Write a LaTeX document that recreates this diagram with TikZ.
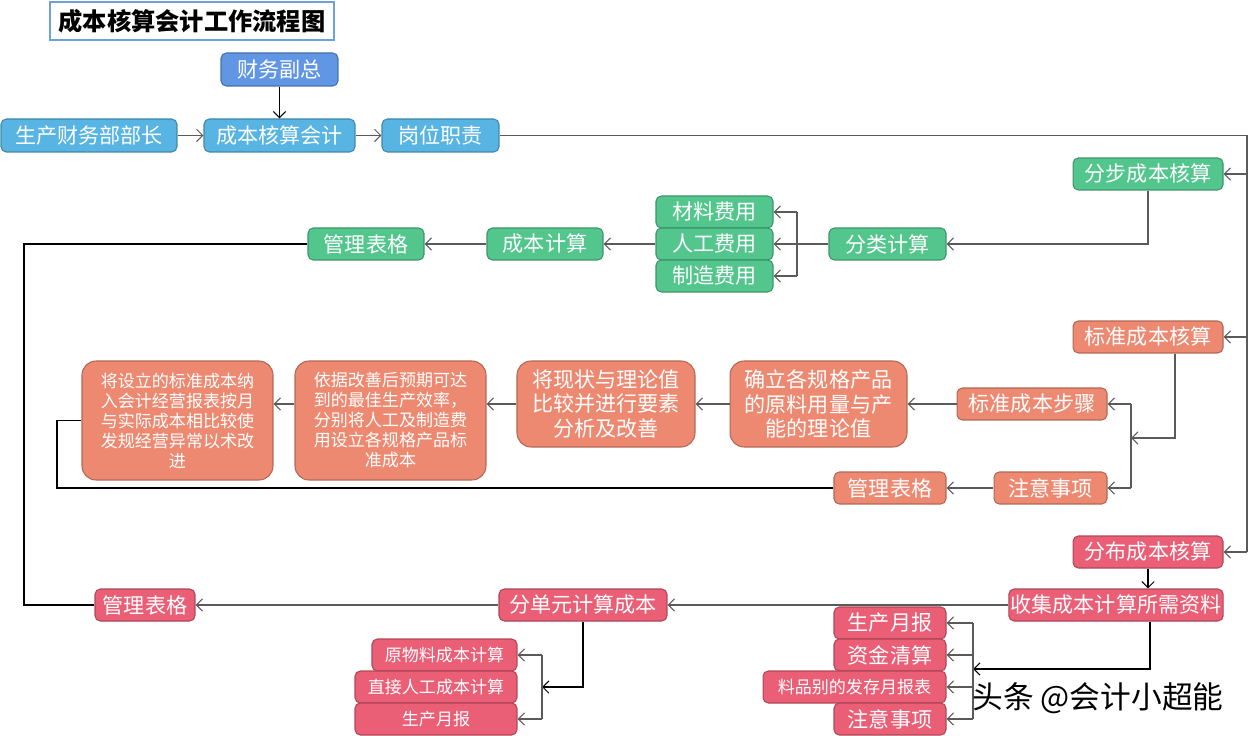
\documentclass[tikz,border=0pt]{standalone}
\usepackage{fontspec}
\newfontfamily\cjk{Noto Sans CJK SC}
\usetikzlibrary{arrows.meta, positioning, calc}
\definecolor{chartblue}{HTML}{6096E4}
\definecolor{chartsky}{HTML}{58B4E2}
\definecolor{chartgreen}{HTML}{52C68D}
\definecolor{chartorange}{HTML}{EE8971}
\definecolor{chartred}{HTML}{EA5F76}
\definecolor{chartframe}{HTML}{6FA0DC}
\definecolor{chartline}{HTML}{5A5A5A}

\begin{document}
\begin{tikzpicture}[x=0.02cm, y=-0.02cm, font=\cjk\fontsize{12}{14}\selectfont,
    >={Straight Barb[length=3.5pt,width=7pt]},
    box/.style={rounded corners=3pt, text=white, minimum height=0.64cm, inner sep=1pt, line width=0.6pt},
    skybox/.style={box, fill=chartsky, draw=chartsky!75!black},
    greenbox/.style={box, fill=chartgreen, draw=chartgreen!75!black},
    orangebox/.style={box, fill=chartorange, draw=chartorange!75!black},
    redbox/.style={box, fill=chartred, draw=chartred!75!black},
    bigbox/.style={orangebox, rounded corners=8pt, align=center},
    small/.style={font=\cjk\fontsize{9.7}{11.4}\selectfont},
    flow/.style={->, chartline, line width=0.6pt},
    back/.style={black, line width=0.6pt}]
  \useasboundingbox (0,0) rectangle (1250,736);
  % title
  \node[draw=chartframe, line width=1.1pt, minimum width=5.68cm, minimum height=0.76cm,
        font=\cjk\bfseries\fontsize{13.8}{17}\selectfont] (title) at (192,21) {成本核算会计工作流程图};
  % top row
  \node[box, fill=chartblue, draw=chartblue!75!black, minimum width=2.34cm, minimum height=0.66cm] (vp) at (279.5,69.5) {财务副总};
  \node[skybox, minimum width=3.52cm, minimum height=0.66cm] (head) at (89,135.5) {生产财务部部长};
  \node[skybox, minimum width=3.02cm, minimum height=0.66cm] (acct) at (279.5,135.5) {成本核算会计};
  \node[skybox, minimum width=2.34cm, minimum height=0.66cm] (duty) at (440.5,135.5) {岗位职责};
  \draw[flow] (head) -- (acct);
  \draw[->, black, line width=0.6pt] (vp) -- (acct);
  \draw[flow] (acct) -- (duty);
  % right bus
  \coordinate (busend) at (1247,552);
  \draw[chartline, line width=0.6pt] (duty.east) -| (busend);

  % step costing (green)
  \node[greenbox, minimum width=3.0cm] (stepc) at (1148,174) {分步成本核算};
  \node[greenbox, minimum width=2.34cm] (classc) at (887.5,244) {分类计算};
  \node[greenbox, minimum width=2.34cm] (mat) at (714.5,212) {材料费用};
  \node[greenbox, minimum width=2.34cm] (lab) at (714.5,244) {人工费用};
  \node[greenbox, minimum width=2.34cm] (mfg) at (714.5,276) {制造费用};
  \node[greenbox, minimum width=2.32cm] (costc) at (545,244) {成本计算};
  \node[greenbox, minimum width=2.32cm] (tblg) at (366,244) {管理表格};
  \coordinate (catbr) at (797,244);
  \draw[flow] (busend |- stepc) -- (stepc.east);
  \draw[flow] (stepc.south) |- (classc.east);
  \draw[flow] (classc.west) -- (lab.east);
  \draw[chartline, line width=0.6pt] (mat.east -| catbr) -- (mfg.east -| catbr);
  \foreach \n in {mat,mfg}
    \draw[flow] (\n.east -| catbr) -- (\n.east);
  \draw[flow] (lab.west) -- (costc.east);
  \draw[flow] (costc.west) -- (tblg.east);

  % standard costing (orange)
  \node[orangebox, minimum width=3.0cm] (stdc) at (1148,337) {标准成本核算};
  \node[orangebox, minimum width=3.0cm] (stdstep) at (1032,404) {标准成本步骤};
  \node[orangebox, minimum width=2.26cm] (stdnote) at (1050.5,488) {注意事项};
  \node[orangebox, minimum width=2.24cm] (tblo) at (890,488) {管理表格};
  \node[bigbox, minimum width=3.54cm, minimum height=1.72cm] (setv) at (818.5,404)
    {确立各规格产品\\的原料用量与产\\能的理论值};
  \node[bigbox, minimum width=3.56cm, minimum height=1.72cm] (cmp) at (606,404)
    {将现状与理论值\\比较并进行要素\\分析及改善};
  \node[bigbox, small, minimum width=3.82cm, minimum height=2.38cm] (basis) at (390.5,420.5)
    {依据改善后预期可达\\到的最佳生产效率，\\分别将人工及制造费\\用设立各规格产品标\\准成本};
  \node[bigbox, small, minimum width=3.82cm, minimum height=2.38cm] (rpt) at (177.5,420.5)
    {将设立的标准成本纳\\入会计经营报表按月\\与实际成本相比较使\\发规经营异常以术改\\进};
  \coordinate (stdbr) at (1131,438);
  \coordinate (rptbus) at (57,488);
  \draw[flow] (busend |- stdc) -- (stdc.east);
  \draw[flow] ([xshift=0.54cm]stdc.south) |- (stdbr);
  \draw[chartline, line width=0.6pt] (stdstep.east -| stdbr) -- (stdnote.east -| stdbr);
  \foreach \n in {stdstep,stdnote}
    \draw[flow] (\n.east -| stdbr) -- (\n.east);
  \draw[flow] (stdstep) -- (setv);
  \draw[flow] (setv) -- (cmp);
  \draw[flow] (cmp.west) -- (basis.east |- cmp);
  \draw[flow] (basis.west |- cmp) -- (rpt.east |- cmp);
  \draw[flow] (stdnote) -- (tblo);
  \draw[back] (tblo.west) -- (rptbus) |- (rpt.west);

  % distributed costing (red)
  \node[redbox, minimum width=3.0cm] (distc) at (1148,552) {分布成本核算};
  \node[redbox, minimum width=4.28cm] (collect) at (1116,605) {收集成本计算所需资料};
  \node[redbox, minimum width=3.36cm] (unit) at (583,605) {分单元计算成本};
  \node[redbox, minimum width=2.0cm] (tblr) at (145,605) {管理表格};
  \node[redbox, small, minimum width=2.9cm] (raw) at (444.5,655) {原物料成本计算};
  \node[redbox, small, minimum width=3.24cm] (dlab) at (436,687) {直接人工成本计算};
  \node[redbox, small, minimum width=3.24cm] (mrep) at (436,719) {生产月报};
  \node[redbox, minimum width=2.24cm] (prep) at (890,623) {生产月报};
  \node[redbox, minimum width=2.24cm] (fund) at (890,655) {资金清算};
  \node[redbox, small, minimum width=3.66cm] (matrep) at (854.5,687) {料品别的发存月报表};
  \node[redbox, minimum width=2.24cm] (note2) at (890,719) {注意事项};
  \coordinate (unitbr) at (542,687);
  \coordinate (colbr) at (973,669);
  \coordinate (leftbus) at (24,605);
  \draw[flow] (busend) -- (distc.east);
  \draw[->, black, line width=0.6pt] (distc.south) -- (collect.north -| distc.south);
  \draw[flow] (collect) -- (unit);
  \draw[flow] (unit) -- (tblr);
  \draw[->, black, line width=0.6pt] (unit.south) |- (unitbr);
  \draw[chartline, line width=0.6pt] (raw.east -| unitbr) -- (mrep.east -| unitbr);
  \foreach \n in {raw,mrep}
    \draw[flow] (\n.east -| unitbr) -- (\n.east);
  \draw[->, black, line width=0.6pt] ([xshift=0.68cm]collect.south) |- (colbr);
  \draw[chartline, line width=0.6pt] (prep.east -| colbr) -- (note2.east -| colbr);
  \foreach \n in {prep,fund,matrep,note2}
    \draw[flow] (\n.east -| colbr) -- (\n.east);
  % return of the green table
  \draw[back] (tblg.west) -| (leftbus) -- (tblr.west);

  % watermark
  \node[font=\cjk\fontsize{17.5}{20}\selectfont] (mark) at (1098,698) {头条 @会计小超能};
\end{tikzpicture}
\end{document}
